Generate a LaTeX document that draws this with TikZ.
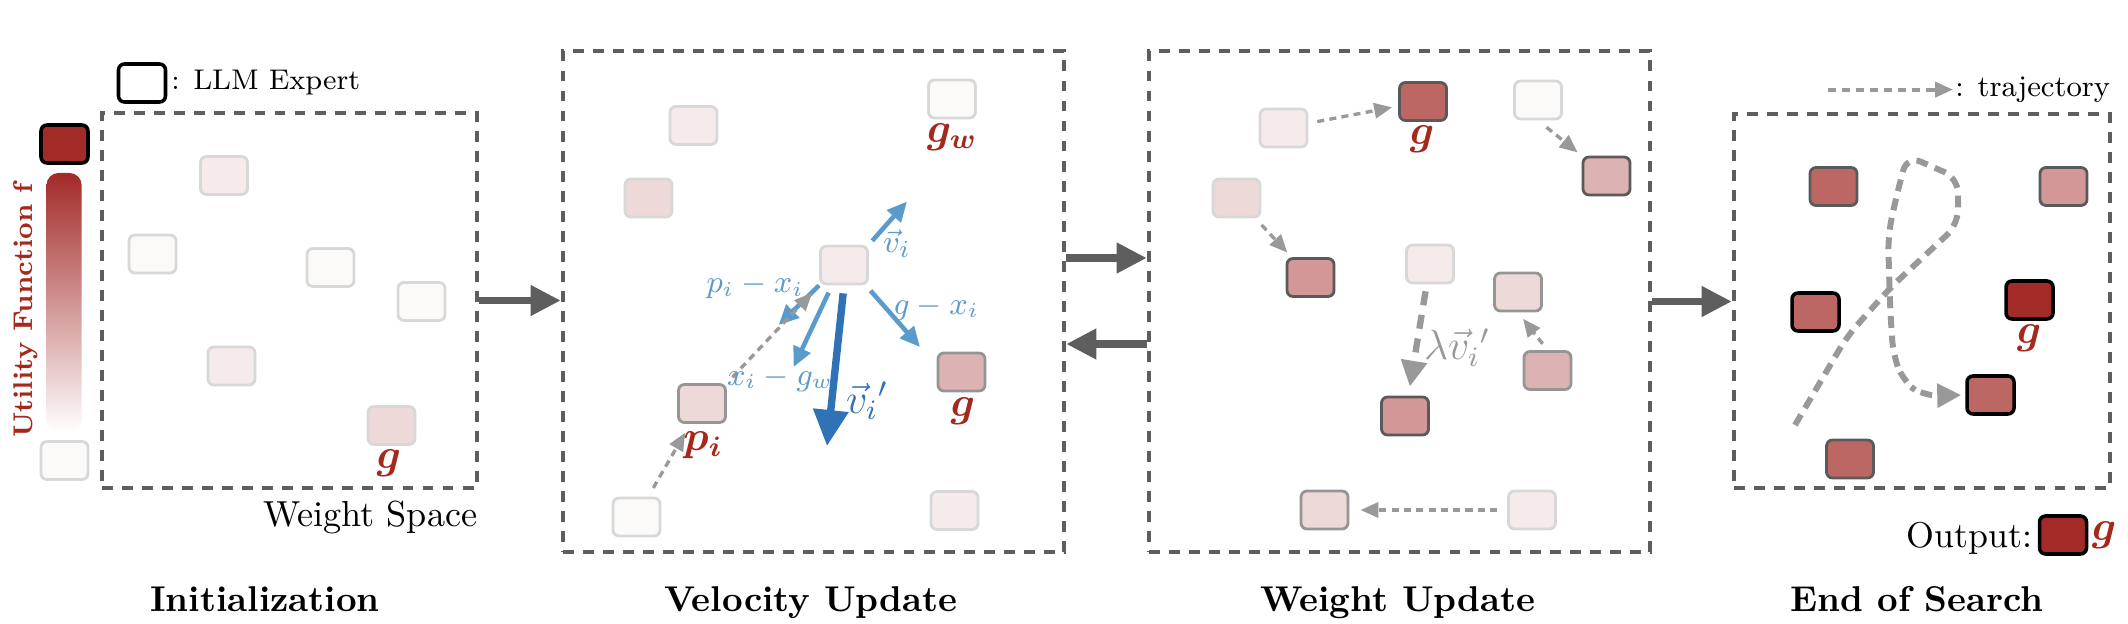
\documentclass[tikz,border=0pt]{standalone}
\usepackage{amsmath, amssymb}
\usepackage{bm}
\usetikzlibrary{arrows.meta}

\definecolor{tint0}{HTML}{FBFAF8}
\definecolor{tint1}{HTML}{F4EBEA}
\definecolor{tint2}{HTML}{EDD9D8}
\definecolor{tint3}{HTML}{DCB3B2}
\definecolor{tint4}{HTML}{D29796}
\definecolor{tint5}{HTML}{BD6765}
\definecolor{tint6}{HTML}{A22A27}
\definecolor{rimFaint}{HTML}{D8D8D8}
\definecolor{rimMid}{HTML}{959595}
\definecolor{rimDark}{HTML}{5A5A5A}
\definecolor{frameGray}{HTML}{5E5E5E}
\definecolor{trajGray}{HTML}{999999}
\definecolor{labelRed}{HTML}{A5281C}
\definecolor{velBlue}{HTML}{5B9BCC}
\definecolor{velDark}{HTML}{2F72B6}

\begin{document}
\begin{tikzpicture}[x=1cm, y=-1cm]
\tikzstyle{expertStyle}=[shape=rectangle, rounded corners=0.06cm, minimum width=0.47cm, minimum height=0.38cm, inner sep=0pt, line width=0.8pt]
\tikzstyle{faintStyle}=[expertStyle, draw=rimFaint]
\tikzstyle{midStyle}=[expertStyle, draw=rimMid]
\tikzstyle{darkStyle}=[expertStyle, draw=rimDark]
\tikzstyle{blackStyle}=[expertStyle, draw=black, line width=1pt]
\tikzstyle{panelStyle}=[draw=frameGray, line width=1.3pt, dash pattern=on 3.1pt off 2.6pt, inner sep=0pt]
\tikzstyle{stageArrow}=[draw=frameGray, line width=2pt, -{Triangle[length=0.30cm, width=0.29cm]}]
\tikzstyle{trajArrow}=[draw=trajGray, line width=0.95pt, dash pattern=on 2pt off 1.5pt, -{Triangle[length=0.18cm, width=0.15cm]}]
\tikzstyle{stepArrow}=[draw=trajGray, line width=1.8pt, dash pattern=on 4pt off 2.8pt, -{Triangle[length=0.26cm, width=0.25cm]}]
\tikzstyle{pathArrow}=[draw=trajGray, line width=1.7pt, dash pattern=on 3.4pt off 2.2pt, rounded corners=0.15cm, -{Triangle[length=0.24cm, width=0.23cm]}]
\tikzstyle{blueArrow}=[draw=velBlue, line width=1.3pt, -{Triangle[length=0.2cm, width=0.18cm]}]
\tikzstyle{newVelArrow}=[draw=velDark, line width=2.1pt, -{Triangle[length=0.36cm, width=0.34cm]}]
\tikzstyle{redLabel}=[text=labelRed, inner sep=0pt, font=\fontsize{12}{14}\selectfont]
\tikzstyle{blueLabel}=[text=velBlue, inner sep=0pt, font=\fontsize{8.7}{10}\selectfont]
\tikzstyle{titleStyle}=[anchor=base, inner sep=0pt, font=\fontsize{10.2}{12}\selectfont\bfseries]

\useasboundingbox (0,0) rectangle (21.28,6.24);

\node[panelStyle, minimum width=3.75cm, minimum height=3.75cm] (init) at (2.895,3.005) {};
\node[panelStyle, minimum width=5.01cm, minimum height=5.01cm] (velo) at (8.135,3.015) {};
\node[panelStyle, minimum width=5.01cm, minimum height=5.01cm] (wupd) at (13.995,3.015) {};
\node[panelStyle, minimum width=3.76cm, minimum height=3.74cm] (search) at (19.22,3.01) {};

\node[blackStyle, fill=white] (lgd) at (1.42,0.83) {};
\node[anchor=west, inner sep=1pt, font=\fontsize{8.1}{10}\selectfont] (lgdText) at (lgd.east) {: LLM Expert};
\node[blackStyle, fill=tint6] (best) at (0.645,1.44) {};
\shade[top color=tint6, bottom color=white, rounded corners=0.12cm] (0.465,1.73) rectangle (0.816,4.33);
\node[faintStyle, fill=tint0] (worst) at (0.645,4.605) {};
\node[rotate=90, text=labelRed, inner sep=0pt, font=\fontsize{7.7}{9}\selectfont\bfseries] (utility) at (0.255,3.105) {Utility Function f};

\node[faintStyle, fill=tint1] (a1) at (2.24,1.755) {};
\node[faintStyle, fill=tint0] (a2) at (1.525,2.54) {};
\node[faintStyle, fill=tint0] (a3) at (3.305,2.675) {};
\node[faintStyle, fill=tint0] (a4) at (4.215,3.015) {};
\node[faintStyle, fill=tint1] (a5) at (2.315,3.66) {};
\node[faintStyle, fill=tint2] (a6) at (3.915,4.255) {};
\node[redLabel] (a6Label) at (3.89,4.635) {$\bm{g}$};
\node[anchor=base east, inner sep=0pt, font=\fontsize{10.3}{12}\selectfont] (space) at (4.78,5.26) {Weight Space};

\node[faintStyle, fill=tint1] (b1) at (6.935,1.255) {};
\node[faintStyle, fill=tint2] (b2) at (6.485,1.98) {};
\node[faintStyle, fill=tint0] (gw) at (9.52,0.99) {};
\node[faintStyle, fill=tint1] (xi) at (8.44,2.65) {};
\node[midStyle, fill=tint2] (pi) at (7.02,4.035) {};
\node[midStyle, fill=tint3] (gb) at (9.615,3.72) {};
\node[faintStyle, fill=tint0] (b7) at (6.365,5.17) {};
\node[faintStyle, fill=tint1] (b8) at (9.545,5.105) {};
\node[redLabel] (gwLabel) at (9.52,1.37) {$\bm{g_w}$};
\node[redLabel] (piLabel) at (7.03,4.45) {$\bm{p_i}$};
\node[redLabel] (gbLabel) at (9.63,4.115) {$\bm{g}$};

\coordinate (vTip) at (9.07,2.015);
\coordinate (pTip) at (7.786,3.25);
\coordinate (gwTip) at (7.936,3.67);
\coordinate (gTip) at (9.20,3.47);
\coordinate (vNewTip) at (8.27,4.46);
\draw[blueArrow, shorten <=0.05cm] (xi.north east) -- (vTip);
\draw[blueArrow] (xi.south west) -- (pTip);
\draw[blueArrow, shorten <=0.08cm] ([xshift=-0.12cm]xi.south) -- (gwTip);
\draw[blueArrow, shorten <=0.07cm] ([xshift=-0.03cm]xi.south east) -- (gTip);
\draw[newVelArrow, shorten <=0.08cm] (xi.south) -- (vNewTip);
\draw[trajArrow, shorten <=0.08cm, shorten >=0.1cm] (pi.north east) -- (xi.south west);
\draw[trajArrow, shorten <=0.1cm, shorten >=0.1cm] (b7) -- (pi);
\node[blueLabel, font=\fontsize{9.5}{11}\selectfont] (vLabel) at (8.97,2.435) {$\vec{v}_i$};
\node[blueLabel] (pLabel) at (7.55,2.865) {$p_i-x_i$};
\node[blueLabel] (gwDiff) at (7.80,3.79) {$x_i-g_w$};
\node[blueLabel] (gDiff) at (9.36,3.08) {$g-x_i$};
\node[text=velDark, inner sep=0pt, font=\fontsize{12}{14}\selectfont] (vNewLabel) at (8.67,4.01) {$\vec{v}_i{}'$};

\node[faintStyle, fill=tint1] (c1) at (12.835,1.28) {};
\node[darkStyle, fill=tint5] (gc) at (14.23,1.015) {};
\node[faintStyle, fill=tint0] (c2) at (15.38,1.00) {};
\node[darkStyle, fill=tint3] (c3) at (16.065,1.76) {};
\node[faintStyle, fill=tint2] (c4) at (12.365,1.98) {};
\node[darkStyle, fill=tint4] (c5) at (13.105,2.775) {};
\node[faintStyle, fill=tint1] (c6) at (14.30,2.64) {};
\node[darkStyle, fill=tint4] (c7) at (14.05,4.16) {};
\node[midStyle, fill=tint2] (c8) at (15.18,2.92) {};
\node[midStyle, fill=tint3] (c9) at (15.475,3.705) {};
\node[midStyle, fill=tint2] (c10) at (13.245,5.10) {};
\node[faintStyle, fill=tint1] (c11) at (15.32,5.10) {};
\node[redLabel] (gcLabel) at (14.22,1.395) {$\bm{g}$};
\draw[trajArrow, shorten <=0.09cm, shorten >=0.06cm] (c1) -- (gc);
\draw[trajArrow, shorten <=0.11cm, shorten >=0.05cm] (c2.south) -- (c3.north west);
\draw[trajArrow, shorten <=0.09cm, shorten >=0.06cm] (c4) -- (c5);
\draw[stepArrow, shorten <=0.07cm, shorten >=0.09cm] (c6) -- (c7);
\draw[trajArrow, shorten <=0.08cm, shorten >=0.08cm] (c9.north) -- (c8.south);
\draw[trajArrow, shorten <=0.10cm, shorten >=0.11cm] (c11) -- (c10);
\node[text=trajGray, inner sep=0pt, font=\fontsize{11.5}{13}\selectfont] (stepLabel) at (14.57,3.475) {$\lambda\vec{v}_i{}'$};

\coordinate (legStart) at (18.28,0.896);
\node[anchor=west, inner sep=0.5pt, font=\fontsize{8.5}{10}\selectfont] (legText) at (19.53,0.896) {: trajectory};
\draw[trajArrow, line width=1.1pt, dash pattern=on 2.3pt off 1.7pt] (legStart) -- (legText.west);

\node[darkStyle, fill=tint5] (s1) at (18.335,1.865) {};
\node[darkStyle, fill=tint4] (s2) at (20.635,1.865) {};
\node[blackStyle, fill=tint5] (s3) at (18.155,3.12) {};
\node[blackStyle, fill=tint6] (s4) at (20.295,3.00) {};
\node[blackStyle, fill=tint5] (s5) at (19.905,3.95) {};
\node[darkStyle, fill=tint5] (s6) at (18.50,4.59) {};
\node[redLabel] (s4Label) at (20.29,3.38) {$\bm{g}$};
\coordinate (trajStart) at (17.95,4.25);
\draw[pathArrow, shorten >=0.04cm] (trajStart) -- (18.47,3.365) -- (18.90,2.88) -- (19.58,2.246) -- (19.58,1.78) -- (19.07,1.557) -- (18.95,2.02) -- (18.88,2.366) -- (18.90,3.055) -- (18.93,3.537) -- (19.03,3.81) -- (19.23,3.96) -- (s5.west);

\node[anchor=base east, inner sep=0pt, font=\fontsize{10.2}{12}\selectfont] (outText) at (20.33,5.47) {Output:};
\node[blackStyle, fill=tint6] (outBox) at (20.63,5.35) {};
\node[redLabel] (outLabel) at (21.04,5.35) {$\bm{g}$};

\draw[stageArrow] (init.east) -- (init.east -| velo.west);
\draw[stageArrow] ([yshift=0.435cm]velo.east) -- ([yshift=0.435cm]velo.east -| wupd.west);
\draw[stageArrow] ([yshift=-0.425cm]wupd.west) -- ([yshift=-0.425cm]wupd.west -| velo.east);
\draw[stageArrow] (wupd.east) -- (wupd.east -| search.west);

\node[titleStyle] (t1) at (2.65,6.11) {Initialization};
\node[titleStyle] (t2) at (8.11,6.11) {Velocity Update};
\node[titleStyle] (t3) at (13.98,6.11) {Weight Update};
\node[titleStyle] (t4) at (19.17,6.11) {End of Search};
\end{tikzpicture}
\end{document}
